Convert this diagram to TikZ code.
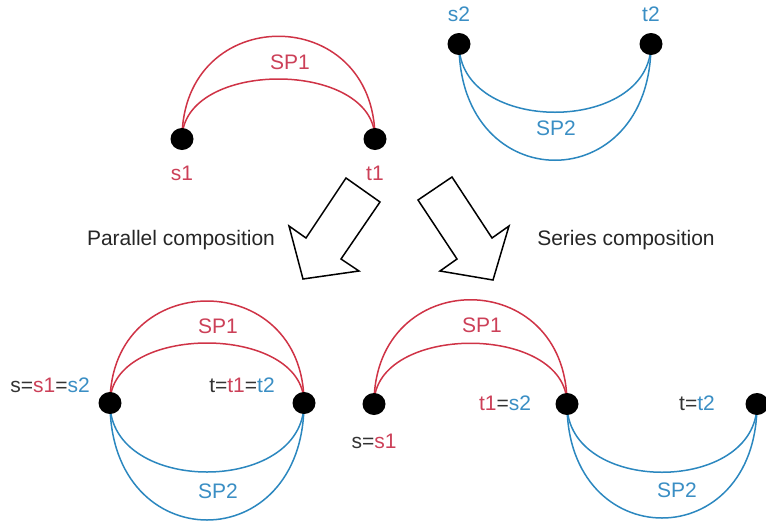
\documentclass[tikz,border=0pt]{standalone}
\usepackage{fontspec}
\setmainfont{Liberation Sans}
\usetikzlibrary{shapes.geometric}
\definecolor{spred}{HTML}{CF3346}
\definecolor{spblue}{HTML}{2B87BF}
\definecolor{txred}{HTML}{CC4058}
\definecolor{txblue}{HTML}{3A8EC4}
\definecolor{txgray}{HTML}{333333}
\begin{document}
\begin{tikzpicture}[x=1pt,y=-1pt,
  redarc/.style={draw=spred,line width=1.5pt},
  bluearc/.style={draw=spblue,line width=1.5pt},
  vtx/.style={ellipse,fill=black,minimum width=23pt,minimum height=22pt,inner sep=0pt},
  lbl/.style={font=\fontsize{21}{25}\selectfont,inner sep=0pt,text=txgray},
  blockarrow/.style={draw=black,line width=1.5pt,fill=white,line join=miter}]
\useasboundingbox (0,0) rectangle (766,523);
% ---------- top left: SP1 ----------
\coordinate (s1) at (182,139);
\coordinate (t1) at (375,139);
\draw[redarc] (s1) .. controls (182,2) and (375,2) .. (t1);
\draw[redarc] (s1) .. controls (182,59) and (375,59) .. (t1);
\node[vtx] (s1dot) at (s1) {};
\node[vtx] (t1dot) at (t1) {};
\node[lbl,text=txred] (sp1a) at (290,62) {SP1};
\node[lbl,text=txred] (s1l) at (182,173) {s1};
\node[lbl,text=txred] (t1l) at (375,173) {t1};
% ---------- top right: SP2 ----------
\coordinate (s2) at (459,44);
\coordinate (t2) at (651,44);
\draw[bluearc] (s2) .. controls (459,135) and (651,135) .. (t2);
\draw[bluearc] (s2) .. controls (459,199) and (651,199) .. (t2);
\node[vtx] (s2dot) at (s2) {};
\node[vtx] (t2dot) at (t2) {};
\node[lbl,text=txblue] (sp2a) at (556,128) {SP2};
\node[lbl,text=txblue] (s2l) at (459,14) {s2};
\node[lbl,text=txblue] (t2l) at (651,14) {t2};
% ---------- block arrows ----------
\draw[blockarrow] (346,178) -- (380,202) -- (341,259) -- (359,271) -- (303,279) -- (289,226) -- (306,238) -- cycle;
\draw[blockarrow] (418,200) -- (452,177) -- (492,238) -- (509,226) -- (493,280) -- (440,271) -- (457,259) -- cycle;
\node[lbl,text=black!85] (par) at (181,240) {Parallel composition};
\node[lbl,text=black!85] (ser) at (626,240) {Series composition};
% ---------- bottom left: parallel ----------
\coordinate (ps) at (110,403);
\coordinate (pt) at (304,403);
\draw[redarc] (ps) .. controls (110,267) and (304,267) .. (pt);
\draw[redarc] (ps) .. controls (110,323) and (304,323) .. (pt);
\draw[bluearc] (ps) .. controls (110,495) and (304,495) .. (pt);
\draw[bluearc] (ps) .. controls (110,559) and (304,559) .. (pt);
\node[vtx] (psdot) at (ps) {};
\node[vtx] (ptdot) at (pt) {};
\node[lbl,text=txred] (sp1b) at (218,326) {SP1};
\node[lbl,text=txblue] (sp2b) at (218,491) {SP2};
\node[lbl] (psl) at (50,385) {s=\textcolor{txred}{s1}=\textcolor{txblue}{s2}};
\node[lbl] (ptl) at (242,385) {t=\textcolor{txred}{t1}=\textcolor{txblue}{t2}};
% ---------- bottom right: series ----------
\coordinate (ss) at (374,404);
\coordinate (sm) at (567,404);
\coordinate (st) at (757,404);
\draw[redarc] (ss) .. controls (374,265) and (567,265) .. (sm);
\draw[redarc] (ss) .. controls (374,323) and (567,323) .. (sm);
\draw[bluearc] (sm) .. controls (567,495) and (757,495) .. (st);
\draw[bluearc] (sm) .. controls (567,556) and (757,556) .. (st);
\node[vtx] (ssdot) at (ss) {};
\node[vtx] (smdot) at (sm) {};
\node[vtx] (stdot) at (st) {};
\node[lbl,text=txred] (sp1c) at (482,325) {SP1};
\node[lbl,text=txblue] (sp2c) at (677,490) {SP2};
\node[lbl] (ssl) at (374,441) {s=\textcolor{txred}{s1}};
\node[lbl] (sml) at (505,403) {\textcolor{txred}{t1}=\textcolor{txblue}{s2}};
\node[lbl] (stl) at (697,403) {t=\textcolor{txblue}{t2}};
\end{tikzpicture}
\end{document}
